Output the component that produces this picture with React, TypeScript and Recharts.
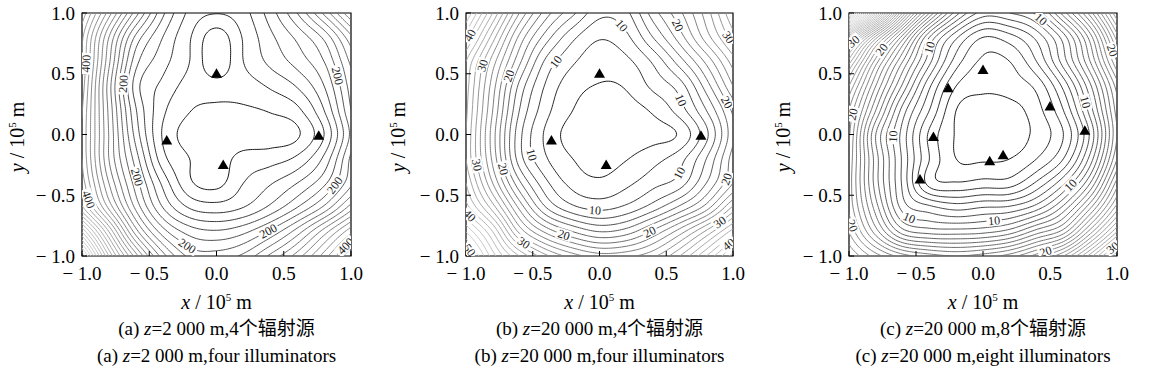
import React, { useMemo } from "react";
import { ComposedChart, Line, Scatter, XAxis, YAxis, ReferenceArea } from "recharts";

const SERIF = '"Liberation Serif", "Times New Roman", "Noto Sans CJK SC", serif';

// Field on an 11 x 11 grid:
// columns x = -1.0 … 1.0 (step 0.2), rows y = 1.0 (top) … -1.0 (bottom).
const fieldA = [
  [455, 350, 250, 165, 115, 101, 113, 150, 200, 265, 340],
  [425, 300, 195, 140, 102, 70, 102, 135, 165, 205, 275],
  [420, 285, 168, 128, 100, 66, 100, 125, 148, 180, 245],
  [412, 270, 150, 115, 92, 85, 90, 103, 122, 160, 230],
  [402, 275, 162, 105, 81, 76, 77, 82, 95, 140, 220],
  [398, 279, 172, 98, 72, 66, 66, 69, 77, 120, 205],
  [400, 280, 190, 108, 80, 70, 88, 92, 105, 145, 225],
  [412, 300, 210, 135, 84, 74, 100, 118, 140, 175, 235],
  [445, 335, 235, 160, 118, 109, 120, 145, 180, 225, 290],
  [560, 420, 290, 210, 172, 163, 175, 205, 250, 310, 375],
  [680, 500, 370, 270, 215, 210, 225, 265, 310, 370, 440],
];

const fieldB = [
  [46, 36, 26, 19, 14.5, 10.6, 11.5, 17, 21.5, 27, 34],
  [41, 31, 21.5, 15, 10.5, 8.2, 9.5, 14, 19, 25, 31],
  [36, 27, 18.5, 11.5, 8.3, 6.8, 7.5, 10.3, 15, 20.5, 27],
  [35, 25, 15.5, 9.7, 6.8, 5.9, 6.2, 8.5, 11, 17, 24],
  [34.5, 24, 14, 8.7, 6.0, 5.2, 5.3, 6.3, 9.0, 14, 20.5],
  [34, 23, 12.7, 7.6, 5.2, 5.0, 5.0, 5.3, 6.3, 11.5, 19.5],
  [34, 23.5, 13, 8.2, 6.0, 5.3, 5.9, 7.3, 9.2, 14, 21],
  [36, 26, 16.5, 10.5, 7.3, 6.4, 7.5, 9.3, 11, 16, 22],
  [39, 31, 21.5, 14, 10.5, 9.4, 10.5, 13, 16.5, 21, 28.5],
  [46, 38, 27.5, 21.5, 18, 16, 17, 20.5, 25, 30.5, 37],
  [53, 43, 36, 30.5, 27, 25, 25.5, 27.5, 32, 38, 45],
];

const fieldC = [
  [50, 37, 25, 17, 11.5, 8.6, 9.0, 10.3, 14.5, 19.5, 26],
  [33, 24.5, 17.5, 11, 7.2, 5.0, 5.6, 7.3, 10.5, 15.5, 22.5],
  [26.5, 19.5, 14, 9.3, 5.5, 3.8, 4.0, 6.0, 9.5, 14, 20],
  [23, 17, 11.8, 7.2, 4.0, 3.3, 3.5, 4.3, 7.3, 11.8, 17.5],
  [21, 15, 9.6, 6.0, 3.0, 2.4, 2.6, 3.6, 6.0, 10.5, 16.5],
  [20.2, 13, 8.6, 4.8, 2.9, 2.2, 2.4, 3.3, 5.0, 9.2, 16],
  [19.8, 13.5, 8.8, 5.0, 3.0, 2.85, 3.0, 4.0, 6.0, 10.4, 17],
  [19.6, 13.5, 8.8, 4.6, 4.1, 4.4, 4.5, 6.2, 8.8, 13.0, 19.5],
  [19.8, 14.5, 9.6, 8.3, 7.6, 8.0, 8.2, 9.5, 12.3, 16.8, 22.5],
  [21, 16.5, 12.5, 11.6, 11.5, 11.7, 12.5, 14.5, 16.5, 21.5, 27],
  [23, 20.5, 18.5, 17.5, 17, 17.5, 18.5, 20.5, 23, 27.5, 33],
];

const levelsA = [
  80, 100, 120, 140, 160, 180, 200, 220, 240, 260, 280, 300, 320, 340, 360, 380,
  400, 420, 440, 460, 480, 500, 520, 540, 560, 580, 600, 620, 640, 660, 680,
];
const levelsB = [6, 8, 10, 12, 14, 16, 18, 20, 22, 24, 26, 28, 30, 32, 34, 36, 38, 40, 42, 44, 46, 48, 50, 52];
const levelsC = [
  3, 4, 5, 6, 7, 8, 9, 10, 11, 12, 13, 14, 15, 16, 17, 18, 19, 20, 21, 22, 23, 24,
  25, 26, 27, 28, 29, 30, 31, 32, 33, 34, 35, 36, 37, 38, 39, 40, 41, 42, 43, 44,
  45, 46, 47, 48, 49,
];

const illuminatorsA = [
  { x: 0, y: 0.5 },
  { x: -0.37, y: -0.05 },
  { x: 0.05, y: -0.25 },
  { x: 0.76, y: -0.01 },
];
const illuminatorsB = [
  { x: 0, y: 0.5 },
  { x: -0.36, y: -0.05 },
  { x: 0.05, y: -0.25 },
  { x: 0.76, y: -0.01 },
];
const illuminatorsC = [
  { x: 0, y: 0.53 },
  { x: -0.26, y: 0.38 },
  { x: 0.5, y: 0.23 },
  { x: 0.76, y: 0.03 },
  { x: -0.37, y: -0.02 },
  { x: 0.15, y: -0.17 },
  { x: 0.05, y: -0.22 },
  { x: -0.47, y: -0.37 },
];

// approximate label spots; each one is snapped onto its contour
const labelsA = [
  { x: -0.71, y: 0.42, level: 200 },
  { x: -0.68, y: -0.37, level: 200 },
  { x: -0.21, y: -0.89, level: 200 },
  { x: 0.38, y: -0.8, level: 200 },
  { x: 0.91, y: -0.45, level: 200 },
  { x: 0.92, y: 0.48, level: 200 },
  { x: -0.97, y: 0.59, level: 400 },
  { x: -0.97, y: -0.54, level: 400 },
  { x: 0.94, y: -0.89, level: 400 },
];
const labelsB = [
  { x: -0.34, y: 0.61, level: 10 },
  { x: 0.19, y: 0.92, level: 10 },
  { x: 0.63, y: 0.3, level: 10 },
  { x: 0.6, y: -0.32, level: 10 },
  { x: -0.03, y: -0.64, level: 10 },
  { x: -0.52, y: -0.17, level: 10 },
  { x: -0.69, y: 0.49, level: 20 },
  { x: -0.73, y: -0.29, level: 20 },
  { x: -0.29, y: -0.88, level: 20 },
  { x: 0.37, y: -0.78, level: 20 },
  { x: 0.96, y: -0.37, level: 20 },
  { x: 0.97, y: 0.27, level: 20 },
  { x: 0.56, y: 0.89, level: 20 },
  { x: -0.88, y: 0.56, level: 30 },
  { x: -0.94, y: -0.26, level: 30 },
  { x: -0.58, y: -0.92, level: 30 },
  { x: 0.96, y: 0.74, level: 30 },
  { x: 0.89, y: -0.71, level: 30 },
  { x: -0.98, y: 0.73, level: 40 },
  { x: -0.98, y: -0.65, level: 40 },
  { x: 0.96, y: -0.89, level: 40 },
  { x: -0.97, y: -0.95, level: 50 },
];
const labelsC = [
  { x: 0.36, y: 0.96, level: 10 },
  { x: -0.39, y: 0.71, level: 10 },
  { x: 0.78, y: 0.27, level: 10 },
  { x: -0.7, y: -0.01, level: 10 },
  { x: 0.68, y: -0.43, level: 10 },
  { x: -0.57, y: -0.74, level: 10 },
  { x: 0.08, y: -0.73, level: 10 },
  { x: -0.75, y: 0.7, level: 20 },
  { x: 0.94, y: 0.68, level: 20 },
  { x: -0.98, y: -0.03, level: 20 },
  { x: -0.98, y: -0.7, level: 20 },
  { x: 0.45, y: -0.96, level: 20 },
  { x: -0.98, y: 0.78, level: 30 },
  { x: 0.96, y: -0.91, level: 30 },
];

const axisTicks = [-1, -0.5, 0, 0.5, 1];

const captions = [
  { tag: "(a)", z: "2 000", zh: "4个辐射源", en: "four illuminators" },
  { tag: "(b)", z: "20 000", zh: "4个辐射源", en: "four illuminators" },
  { tag: "(c)", z: "20 000", zh: "8个辐射源", en: "eight illuminators" },
];

const PLOT_H = 243;

type Pt = { x: number; y: number };

function catmull(p0: number, p1: number, p2: number, p3: number, t: number) {
  return 0.5 * (2 * p1 + (p2 - p0) * t + (2 * p0 - 5 * p1 + 4 * p2 - p3) * t * t + (3 * p1 - p0 - 3 * p2 + p3) * t * t * t);
}

// pad the grid by one cell each side (linear extrapolation) so the spline has neighbours
function padGrid(F: number[][]) {
  const rows = F.map((r) => [2 * r[0] - r[1], ...r, 2 * r[r.length - 1] - r[r.length - 2]]);
  const first = rows[0].map((v, c) => 2 * v - rows[1][c]);
  const last = rows[rows.length - 1].map((v, c) => 2 * v - rows[rows.length - 2][c]);
  return [first, ...rows, last];
}

function resample(F: number[][], res: number) {
  const P = padGrid(F);
  const n = F.length - 1;
  const out: number[][] = [];
  for (let j = 0; j <= res; j++) {
    const gy = (j / res) * n;
    const r = Math.min(Math.floor(gy), n - 1);
    const ty = gy - r;
    const row: number[] = [];
    for (let i = 0; i <= res; i++) {
      const gx = (i / res) * n;
      const c = Math.min(Math.floor(gx), n - 1);
      const tx = gx - c;
      const col = [0, 1, 2, 3].map((k) => catmull(P[r + k][c], P[r + k][c + 1], P[r + k][c + 2], P[r + k][c + 3], tx));
      row.push(catmull(col[0], col[1], col[2], col[3], ty));
    }
    out.push(row);
  }
  return out;
}

// marching squares, segments joined into polylines
function traceContours(V: number[][], level: number): Pt[][] {
  const res = V.length - 1;
  const h = 2 / res;
  const pts = new Map<string, Pt>();
  const adj = new Map<string, string[]>();
  const hk = (i: number, j: number) => {
    const key = `h${i}_${j}`;
    if (!pts.has(key)) {
      const a = V[j][i], b = V[j][i + 1];
      pts.set(key, { x: -1 + (i + (level - a) / (b - a)) * h, y: 1 - j * h });
    }
    return key;
  };
  const vk = (i: number, j: number) => {
    const key = `v${i}_${j}`;
    if (!pts.has(key)) {
      const a = V[j][i], b = V[j + 1][i];
      pts.set(key, { x: -1 + i * h, y: 1 - (j + (level - a) / (b - a)) * h });
    }
    return key;
  };
  const link = (a: string, b: string) => {
    if (!adj.has(a)) adj.set(a, []);
    if (!adj.has(b)) adj.set(b, []);
    adj.get(a)!.push(b);
    adj.get(b)!.push(a);
  };
  for (let j = 0; j < res; j++) {
    for (let i = 0; i < res; i++) {
      const tl = V[j][i], tr = V[j][i + 1], br = V[j + 1][i + 1], bl = V[j + 1][i];
      const idx = (tl >= level ? 8 : 0) | (tr >= level ? 4 : 0) | (br >= level ? 2 : 0) | (bl >= level ? 1 : 0);
      if (idx === 0 || idx === 15) continue;
      const T = () => hk(i, j), B = () => hk(i, j + 1), L = () => vk(i, j), R = () => vk(i + 1, j);
      const mid = (tl + tr + br + bl) / 4 >= level;
      switch (idx) {
        case 1: case 14: link(L(), B()); break;
        case 2: case 13: link(B(), R()); break;
        case 3: case 12: link(L(), R()); break;
        case 4: case 11: link(T(), R()); break;
        case 6: case 9: link(T(), B()); break;
        case 7: case 8: link(L(), T()); break;
        case 5:
          if (mid) { link(L(), T()); link(B(), R()); } else { link(T(), R()); link(L(), B()); }
          break;
        case 10:
          if (mid) { link(T(), R()); link(L(), B()); } else { link(L(), T()); link(B(), R()); }
          break;
      }
    }
  }
  const seen = new Set<string>();
  const lines: Pt[][] = [];
  const walk = (start: string) => {
    const path = [pts.get(start)!];
    seen.add(start);
    let cur = start;
    for (;;) {
      const next = (adj.get(cur) || []).find((k) => !seen.has(k));
      if (!next) break;
      seen.add(next);
      path.push(pts.get(next)!);
      cur = next;
    }
    if (path.length > 2 && (adj.get(cur) || []).includes(start)) path.push(path[0]);
    lines.push(path);
  };
  for (const [k, nb] of adj) if (nb.length === 1 && !seen.has(k)) walk(k);
  for (const k of adj.keys()) if (!seen.has(k)) walk(k);
  return lines;
}

function snapLabels(
  labels: { x: number; y: number; level: number }[],
  byLevel: Map<number, Pt[][]>,
  sx: number,
  sy: number
) {
  const out: { x: number; y: number; text: string; angle: number }[] = [];
  for (const lb of labels) {
    const ls = byLevel.get(lb.level);
    if (!ls) continue;
    let best: { line: Pt[]; k: number } | null = null;
    let bd = Infinity;
    for (const line of ls) {
      line.forEach((p, k) => {
        if (Math.abs(p.x) > 0.975 || Math.abs(p.y) > 0.965) return;
        const d = ((p.x - lb.x) * sx) ** 2 + ((p.y - lb.y) * sy) ** 2;
        if (d < bd) { bd = d; best = { line, k }; }
      });
    }
    if (!best || bd > 45 * 45) continue;
    const { line, k } = best as { line: Pt[]; k: number };
    const a = line[Math.max(0, k - 2)], b = line[Math.min(line.length - 1, k + 2)];
    let ang = (Math.atan2(-(b.y - a.y) * sy, (b.x - a.x) * sx) * 180) / Math.PI;
    if (ang > 90) ang -= 180;
    if (ang < -90) ang += 180;
    out.push({ x: line[k].x, y: line[k].y, text: String(lb.level), angle: ang });
  }
  return out;
}

const shade = (level: number, lo: number, hi: number) => {
  const t = Math.max(0, Math.min(1, (level - lo) / (hi - lo)));
  const v = Math.round(222 * Math.pow(t, 0.75));
  return `rgb(${v},${v},${v})`;
};

const fmtTick = (v: number) => (v < 0 ? "\u2212 " : "") + Math.abs(v).toFixed(1);

const renderTriangle = (p: any) => (
  <polygon points={`${p.cx},${p.cy - 5.5} ${p.cx - 5.5},${p.cy + 4} ${p.cx + 5.5},${p.cy + 4}`} fill="#000" />
);

const renderLabel = (p: any) => {
  const d = p.payload;
  const w = d.text.length * 6.2 + 3;
  return (
    <g transform={`translate(${p.cx},${p.cy}) rotate(${d.angle})`}>
      <rect x={-w / 2} y={-5.5} width={w} height={11} fill="#fff" />
      <text x={0} y={0} dy="0.35em" textAnchor="middle" fontSize={12} fontFamily={SERIF} fill="#222">
        {d.text}
      </text>
    </g>
  );
};

type PanelProps = {
  left: number;
  plotWidth: number;
  field: number[][];
  levels: number[];
  illuminators: Pt[];
  labels: { x: number; y: number; level: number }[];
  shadeTop: number;
};

function ContourPanel({ left, plotWidth, field, levels, illuminators, labels, shadeTop }: PanelProps) {
  const { lines, marks } = useMemo(() => {
    const V = resample(field, 120);
    const lo = levels[0];
    const byLevel = new Map<number, Pt[][]>();
    const lines: { pts: Pt[]; color: string }[] = [];
    for (const lv of levels) {
      const ls = traceContours(V, lv);
      byLevel.set(lv, ls);
      for (const pts of ls) if (pts.length > 1) lines.push({ pts, color: shade(lv, lo, shadeTop) });
    }
    return { lines, marks: snapLabels(labels, byLevel, plotWidth / 2, PLOT_H / 2) };
  }, [field, levels, labels, plotWidth, shadeTop]);

  const tickStyle = { fill: "#000", fontSize: 19, fontFamily: SERIF };
  return (
    <div style={{ position: "absolute", left, top: 0 }}>
      <ComposedChart width={82 + plotWidth + 22} height={300} margin={{ top: 13, right: 22, bottom: 0, left: 0 }}>
        <XAxis
          type="number"
          dataKey="x"
          domain={[-1, 1]}
          ticks={axisTicks}
          interval={0}
          allowDataOverflow
          tickFormatter={fmtTick}
          tick={tickStyle}
          tickSize={-5}
          tickMargin={16}
          tickLine={{ stroke: "#000" }}
          axisLine={false}
          height={44}
        />
        <YAxis
          type="number"
          dataKey="y"
          domain={[-1, 1]}
          ticks={axisTicks}
          interval={0}
          allowDataOverflow
          tickFormatter={fmtTick}
          tick={tickStyle}
          tickSize={-5}
          tickMargin={12}
          tickLine={{ stroke: "#000" }}
          axisLine={false}
          width={82}
        />
        {lines.map((ln, k) => (
          <Line
            key={k}
            data={ln.pts}
            dataKey="y"
            type="linear"
            stroke={ln.color}
            strokeWidth={0.9}
            dot={false}
            activeDot={false}
            legendType="none"
            isAnimationActive={false}
          />
        ))}
        <Scatter data={marks} dataKey="y" shape={renderLabel} isAnimationActive={false} />
        <Scatter data={illuminators} dataKey="y" shape={renderTriangle} isAnimationActive={false} />
        <ReferenceArea x1={-1} x2={1} y1={-1} y2={1} fill="none" stroke="#000" strokeWidth={1.2} ifOverflow="visible" />
      </ComposedChart>
    </div>
  );
}

const panelCenters = [216.5, 599.5, 983];
const yTitleX = [24, 405, 790];

export default function App() {
  return (
    <div style={{ position: "absolute", left: 0, top: 0, width: 1155, height: 387, background: "#fff", fontFamily: SERIF }}>
      <ContourPanel left={0} plotWidth={269} field={fieldA} levels={levelsA} illuminators={illuminatorsA} labels={labelsA} shadeTop={680} />
      <ContourPanel left={384} plotWidth={267} field={fieldB} levels={levelsB} illuminators={illuminatorsB} labels={labelsB} shadeTop={52} />
      <ContourPanel left={767} plotWidth={268} field={fieldC} levels={levelsC} illuminators={illuminatorsC} labels={labelsC} shadeTop={42} />
      <svg width={1155} height={387} style={{ position: "absolute", left: 0, top: 0, pointerEvents: "none" }}>
        <g fontFamily={SERIF} fontSize={20} fill="#000">
          {panelCenters.map((cx, i) => (
            <g key={i}>
              <text x={cx} y={309} textAnchor="middle">
                <tspan fontStyle="italic">x</tspan> / 10<tspan dy={-8} fontSize={11}>5</tspan>
                <tspan dy={8}> m</tspan>
              </text>
              <text transform={`translate(${yTitleX[i]},137) rotate(-90)`} textAnchor="middle">
                <tspan fontStyle="italic">y</tspan> / 10<tspan dy={-8} fontSize={11}>5</tspan>
                <tspan dy={8}> m</tspan>
              </text>
              <text x={cx} y={335} textAnchor="middle" fontSize={19}>
                {captions[i].tag} <tspan fontStyle="italic">z</tspan>={captions[i].z} m,{captions[i].zh}
              </text>
              <text x={cx} y={362} textAnchor="middle" fontSize={19}>
                {captions[i].tag} <tspan fontStyle="italic">z</tspan>={captions[i].z} m,{captions[i].en}
              </text>
            </g>
          ))}
        </g>
      </svg>
    </div>
  );
}
